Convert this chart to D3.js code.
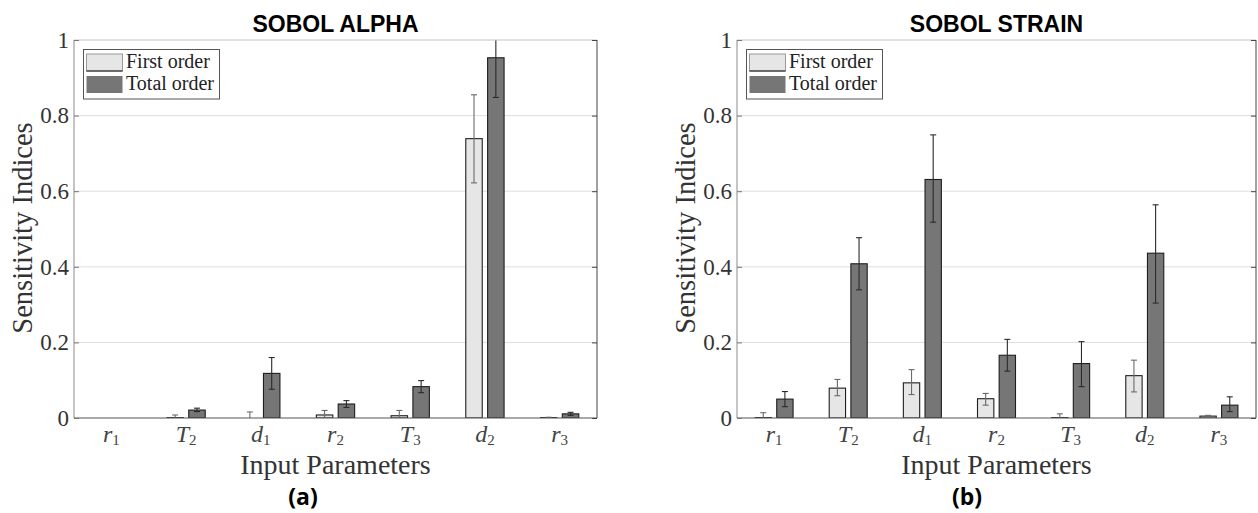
<!DOCTYPE html>
<html>
<head>
<meta charset="utf-8">
<script src="https://cdn.jsdelivr.net/npm/d3@7"></script>
<style>
  html, body { margin: 0; padding: 0; background: #fff; }
  svg { display: block; }
</style>
</head>
<body>
<svg id="fig" width="1258" height="513"></svg>
<script>
// Input parameters (symbol_subscript)
const categories = ["r_1", "T_2", "d_1", "r_2", "T_3", "d_2", "r_3"];
const seriesNames = ["First order", "Total order"];
const yTicks = [0, 0.2, 0.4, 0.6, 0.8, 1];

// Sobol indices for alpha
const alphaFirst   = [0.000, 0.001, 0.000, 0.008, 0.006, 0.739, 0.001];
const alphaFirstLo = [0.000, -0.006, -0.016, -0.004, -0.008, 0.622, 0.000];
const alphaFirstHi = [0.000, 0.008, 0.016, 0.020, 0.020, 0.855, 0.002];
const alphaTotal   = [0.000, 0.021, 0.118, 0.037, 0.083, 0.953, 0.011];
const alphaTotalLo = [0.000, 0.017, 0.076, 0.028, 0.067, 0.848, 0.007];
const alphaTotalHi = [0.000, 0.026, 0.160, 0.046, 0.099, 1.058, 0.015];

// Sobol indices for strain
const strainFirst   = [0.001, 0.079, 0.093, 0.051, 0.001, 0.112, 0.005];
const strainFirstLo = [-0.012, 0.059, 0.062, 0.034, -0.009, 0.069, 0.003];
const strainFirstHi = [0.014, 0.102, 0.128, 0.065, 0.011, 0.153, 0.007];
const strainTotal   = [0.050, 0.408, 0.631, 0.166, 0.144, 0.436, 0.034];
const strainTotalLo = [0.030, 0.339, 0.518, 0.124, 0.083, 0.304, 0.017];
const strainTotalHi = [0.070, 0.477, 0.749, 0.208, 0.202, 0.564, 0.056];

const panels = [
  { id: "a", title: "SOBOL ALPHA", x0: 74, x1: 597, caption: "(a)", captionX: 303,
    first: alphaFirst, firstLo: alphaFirstLo, firstHi: alphaFirstHi,
    total: alphaTotal, totalLo: alphaTotalLo, totalHi: alphaTotalHi },
  { id: "b", title: "SOBOL STRAIN", x0: 737, x1: 1256, caption: "(b)", captionX: 967,
    first: strainFirst, firstLo: strainFirstLo, firstHi: strainFirstHi,
    total: strainTotal, totalLo: strainTotalLo, totalHi: strainTotalHi }
];

const SERIF = "'Liberation Serif', 'Times New Roman', serif";
const SANS = "'Liberation Sans', Arial, sans-serif";
const FILL = { "First order": "#e6e6e6", "Total order": "#767676" };
const ERR = { "First order": "#6a6a6a", "Total order": "#2a2a2a" };
const plotTop = 40, plotBottom = 418;

const svg = d3.select("#fig");

panels.forEach(p => {
  const g = svg.append("g");
  const y = d3.scaleLinear().domain([0, 1]).range([plotBottom, plotTop]);
  const x = d3.scaleBand().domain(categories).range([p.x0, p.x1]).paddingInner(0).paddingOuter(0);
  const bw = x.bandwidth();
  const sub = d3.scaleBand().domain(seriesNames).range([-0.263 * bw, 0.263 * bw]).paddingInner(0.2);

  g.append("defs").append("clipPath").attr("id", "clip-" + p.id)
    .append("rect").attr("x", p.x0).attr("y", plotTop).attr("width", p.x1 - p.x0).attr("height", plotBottom - plotTop);

  // grid
  g.append("g").selectAll("line").data(yTicks.filter(t => t > 0 && t < 1)).join("line")
    .attr("x1", p.x0).attr("x2", p.x1).attr("y1", d => y(d)).attr("y2", d => y(d))
    .attr("stroke", "#dedede").attr("stroke-width", 1);

  // bars
  const rows = [];
  categories.forEach((c, i) => {
    rows.push({ c, s: "First order", v: p.first[i], lo: p.firstLo[i], hi: p.firstHi[i] });
    rows.push({ c, s: "Total order", v: p.total[i], lo: p.totalLo[i], hi: p.totalHi[i] });
  });
  const cx = d => x(d.c) + bw / 2 + sub(d.s) + sub.bandwidth() / 2;

  const plot = g.append("g").attr("clip-path", "url(#clip-" + p.id + ")");
  plot.selectAll("rect.bar").data(rows.filter(d => d.v > 0)).join("rect")
    .attr("class", "bar")
    .attr("x", d => x(d.c) + bw / 2 + sub(d.s) + 0.5)
    .attr("width", sub.bandwidth() - 1)
    .attr("y", d => y(d.v))
    .attr("height", d => y(0) - y(d.v))
    .attr("fill", d => FILL[d.s])
    .attr("stroke", "#1e1e1e").attr("stroke-width", 1.1);

  // error bars
  const eb = plot.selectAll("g.err").data(rows.filter(d => d.hi > d.lo)).join("g").attr("class", "err")
    .attr("stroke", d => ERR[d.s]).attr("stroke-width", 1.1);
  eb.append("line").attr("x1", cx).attr("x2", cx).attr("y1", d => y(d.lo)).attr("y2", d => y(d.hi));
  eb.append("line").attr("x1", d => cx(d) - 3).attr("x2", d => cx(d) + 3).attr("y1", d => y(d.hi)).attr("y2", d => y(d.hi));
  eb.append("line").attr("x1", d => cx(d) - 3).attr("x2", d => cx(d) + 3).attr("y1", d => y(d.lo)).attr("y2", d => y(d.lo));

  // box
  g.append("line").attr("x1", p.x0).attr("x2", p.x1).attr("y1", plotTop).attr("y2", plotTop).attr("stroke", "#c4c4c4");
  g.append("line").attr("x1", p.x1).attr("x2", p.x1).attr("y1", plotTop).attr("y2", plotBottom).attr("stroke", "#444");
  g.append("line").attr("x1", p.x0).attr("x2", p.x0).attr("y1", plotTop).attr("y2", plotBottom).attr("stroke", "#8a8a8a");
  g.append("line").attr("x1", p.x0).attr("x2", p.x1).attr("y1", plotBottom).attr("y2", plotBottom).attr("stroke", "#555").attr("stroke-width", 1.2);

  // y axis (left) with inward ticks
  const yAxis = d3.axisLeft(y).tickValues(yTicks).tickSize(-5).tickPadding(5)
    .tickFormat(d => d === 0 || d === 1 ? String(d) : d3.format(".1f")(d));
  const ya = g.append("g").attr("transform", `translate(${p.x0},0)`).call(yAxis);
  ya.select(".domain").remove();
  ya.selectAll(".tick line").attr("stroke", "#777");
  ya.selectAll(".tick text").attr("font-family", SERIF).attr("font-size", 23).attr("fill", "#333");

  // y axis (right) ticks only
  const yr = g.append("g").attr("transform", `translate(${p.x1},0)`)
    .call(d3.axisRight(y).tickValues(yTicks).tickSize(-5).tickFormat(""));
  yr.select(".domain").remove();
  yr.selectAll(".tick line").attr("stroke", "#444");

  // x tick labels: italic symbol with subscript index
  const xl = g.append("g").selectAll("text").data(categories).join("text")
    .attr("x", d => x(d) + bw / 2).attr("y", 442)
    .attr("text-anchor", "middle").attr("font-family", SERIF).attr("fill", "#444");
  xl.append("tspan").attr("font-style", "italic").attr("font-size", 24).text(d => d.split("_")[0]);
  xl.append("tspan").attr("font-size", 15).attr("dy", 2.5).text(d => d.split("_")[1]);

  // axis titles
  g.append("text").attr("x", (p.x0 + p.x1) / 2).attr("y", 474)
    .attr("text-anchor", "middle").attr("font-family", SERIF).attr("font-size", 28).attr("fill", "#333")
    .text("Input Parameters");
  g.append("text").attr("transform", `translate(${p.x0 - 42},228) rotate(-90)`)
    .attr("text-anchor", "middle").attr("font-family", SERIF).attr("font-size", 28.5).attr("fill", "#333")
    .text("Sensitivity Indices");

  // panel title
  g.append("text").attr("x", (p.x0 + p.x1) / 2).attr("y", 31.5)
    .attr("text-anchor", "middle").attr("font-family", SANS).attr("font-weight", "bold")
    .attr("font-size", 23).attr("fill", "#000").text(p.title);

  // caption
  g.append("text").attr("x", p.captionX).attr("y", 505)
    .attr("text-anchor", "middle").attr("font-family", "'Open Sans', sans-serif").attr("font-weight", "bold")
    .attr("font-size", 23).attr("fill", "#000").text(p.caption);

  // legend
  const lg = g.append("g").attr("transform", `translate(${p.x0 + 9},49)`);
  lg.append("rect").attr("x", 0.5).attr("y", 0.5).attr("width", 136).attr("height", 49.5)
    .attr("fill", "#fff").attr("stroke", "#555").attr("stroke-width", 1);
  seriesNames.forEach((s, i) => {
    const yy = 5 + i * 22;
    lg.append("rect").attr("x", 3.5).attr("y", yy).attr("width", 36).attr("height", 17)
      .attr("fill", FILL[s]).attr("stroke", i === 0 ? "#999" : "none");
    if (i === 0) {
      lg.append("line").attr("x1", 3.5).attr("x2", 39.5).attr("y1", yy + 17).attr("y2", yy + 17)
        .attr("stroke", "#111").attr("stroke-width", 1.2);
    }
    lg.append("text").attr("x", 43).attr("y", yy + 13.5)
      .attr("font-family", SERIF).attr("font-size", 20).attr("fill", "#222").text(s);
  });
});
</script>
</body>
</html>
